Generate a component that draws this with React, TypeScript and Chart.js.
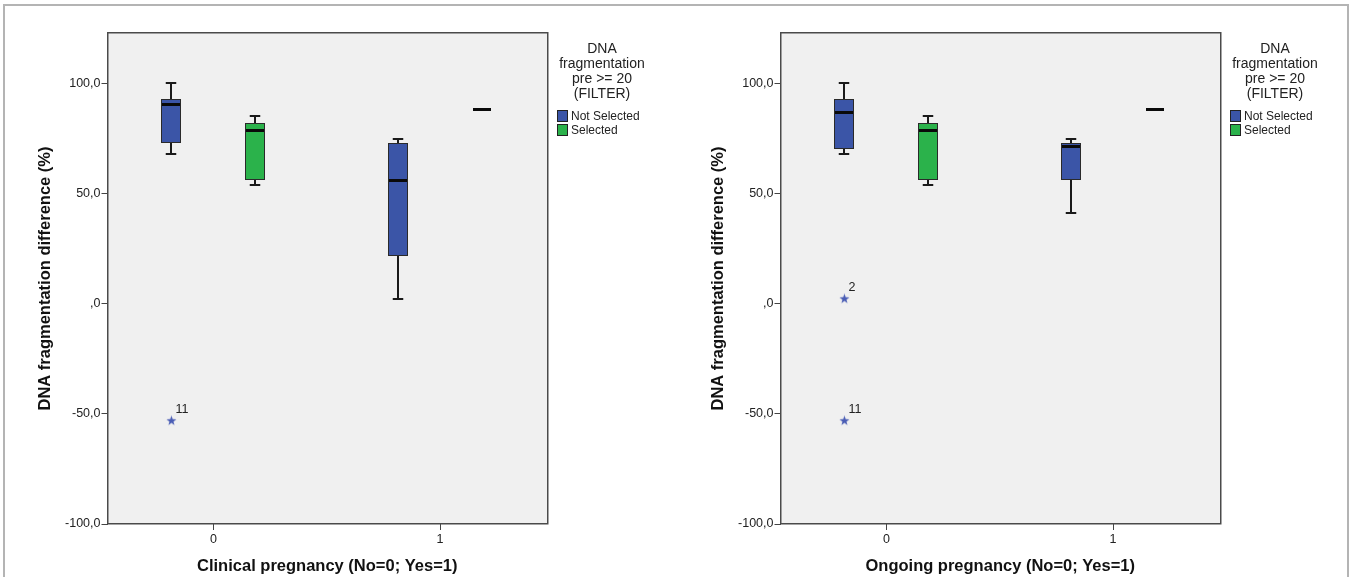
import React, { useEffect, useRef } from 'react';
import { Chart, registerables } from 'chart.js';

Chart.register(...registerables);

const FONT = "'Liberation Sans', Arial, Helvetica, sans-serif";

// ---------- shared data ----------
const categories = [0, 1];
const categoryLabels = ['0', '1'];
const groupNames = ['Not Selected', 'Selected'];
const yTickValues = [-100, -50, 0, 50, 100];
const yTickLabels = ['-100,0', '-50,0', ',0', '50,0', '100,0'];
const legendTitle = ['DNA', 'fragmentation', 'pre >= 20', '(FILTER)'];
const yTitle = 'DNA fragmentation difference (%)';

// ---------- Clinical pregnancy (per category 0, 1) ----------
const clinicalNotSelMin = [67.9, 2.0];
const clinicalNotSelQ1 = [72.7, 21.5];
const clinicalNotSelMedian = [90.3, 56.2];
const clinicalNotSelQ3 = [92.6, 72.7];
const clinicalNotSelMax = [100.0, 74.4];

const clinicalSelMin = [53.6, 88.3];
const clinicalSelQ1 = [55.8, 88.3];
const clinicalSelMedian = [78.8, 88.3];
const clinicalSelQ3 = [81.8, 88.3];
const clinicalSelMax = [85.0, 88.3];

const clinicalOutlierCategory = [0];
const clinicalOutlierGroup = [0];
const clinicalOutlierValue = [-53.2];
const clinicalOutlierLabel = ['11'];

// ---------- Ongoing pregnancy ----------
const ongoingNotSelMin = [67.9, 41.0];
const ongoingNotSelQ1 = [70.0, 56.2];
const ongoingNotSelMedian = [86.7, 71.4];
const ongoingNotSelQ3 = [92.6, 72.9];
const ongoingNotSelMax = [100.0, 74.4];

const ongoingSelMin = [53.8, 88.3];
const ongoingSelQ1 = [55.9, 88.3];
const ongoingSelMedian = [78.9, 88.3];
const ongoingSelQ3 = [81.8, 88.3];
const ongoingSelMax = [85.1, 88.3];

const ongoingOutlierCategory = [0, 0];
const ongoingOutlierGroup = [0, 0];
const ongoingOutlierValue = [2.1, -53.2];
const ongoingOutlierLabel = ['2', '11'];

// ---------- styles / layout ----------
const groupColors = ['#3b55a7', '#2bb24b'];
const groupOffsets = [-0.185, 0.185];
const boxHalfWidth = 0.0463;
const starColor = '#4a5db5';

type GroupStats = { min: number[]; q1: number[]; median: number[]; q3: number[]; max: number[] };

type Spec = {
  xTitle: string;
  groups: GroupStats[];
  outCat: number[];
  outGroup: number[];
  outVal: number[];
  outLabel: string[];
};

const clinicalSpec: Spec = {
  xTitle: 'Clinical pregnancy (No=0; Yes=1)',
  groups: [
    { min: clinicalNotSelMin, q1: clinicalNotSelQ1, median: clinicalNotSelMedian, q3: clinicalNotSelQ3, max: clinicalNotSelMax },
    { min: clinicalSelMin, q1: clinicalSelQ1, median: clinicalSelMedian, q3: clinicalSelQ3, max: clinicalSelMax },
  ],
  outCat: clinicalOutlierCategory,
  outGroup: clinicalOutlierGroup,
  outVal: clinicalOutlierValue,
  outLabel: clinicalOutlierLabel,
};

const ongoingSpec: Spec = {
  xTitle: 'Ongoing pregnancy (No=0; Yes=1)',
  groups: [
    { min: ongoingNotSelMin, q1: ongoingNotSelQ1, median: ongoingNotSelMedian, q3: ongoingNotSelQ3, max: ongoingNotSelMax },
    { min: ongoingSelMin, q1: ongoingSelQ1, median: ongoingSelMedian, q3: ongoingSelQ3, max: ongoingSelMax },
  ],
  outCat: ongoingOutlierCategory,
  outGroup: ongoingOutlierGroup,
  outVal: ongoingOutlierValue,
  outLabel: ongoingOutlierLabel,
};

function makeStar(): HTMLCanvasElement {
  const c = document.createElement('canvas');
  c.width = 11;
  c.height = 11;
  const g = c.getContext('2d')!;
  g.fillStyle = starColor;
  g.beginPath();
  for (let i = 0; i < 10; i++) {
    const r = i % 2 === 0 ? 5.2 : 2.1;
    const a = -Math.PI / 2 + (i * Math.PI) / 5;
    const px = 5.5 + r * Math.cos(a);
    const py = 5.5 + r * Math.sin(a);
    if (i === 0) g.moveTo(px, py);
    else g.lineTo(px, py);
  }
  g.closePath();
  g.fill();
  return c;
}

function makePlugin(spec: Spec) {
  return {
    id: 'spssBoxes',
    beforeDraw(chart: any) {
      const { ctx, chartArea: a } = chart;
      ctx.save();
      ctx.fillStyle = '#f0f0f0';
      ctx.fillRect(a.left, a.top, a.right - a.left, a.bottom - a.top);
      ctx.restore();
    },
    beforeDatasetsDraw(chart: any) {
      const { ctx, scales } = chart;
      const x = scales.x;
      const y = scales.y;
      const hw = x.getPixelForValue(boxHalfWidth) - x.getPixelForValue(0);
      ctx.save();
      spec.groups.forEach((gs, gi) => {
        categories.forEach((cat, ci) => {
          const cx = Math.round(x.getPixelForValue(cat + groupOffsets[gi]));
          const yMin = Math.round(y.getPixelForValue(gs.min[ci]));
          const yQ1 = Math.round(y.getPixelForValue(gs.q1[ci]));
          const yMed = Math.round(y.getPixelForValue(gs.median[ci]));
          const yQ3 = Math.round(y.getPixelForValue(gs.q3[ci]));
          const yMax = Math.round(y.getPixelForValue(gs.max[ci]));
          const left = Math.round(cx - hw);
          const right = Math.round(cx + hw);
          // whiskers
          ctx.strokeStyle = '#1a1a1a';
          ctx.lineWidth = 2;
          if (yMax < yQ3) {
            ctx.beginPath();
            ctx.moveTo(cx, yMax);
            ctx.lineTo(cx, yQ3);
            ctx.moveTo(cx - hw / 2, yMax);
            ctx.lineTo(cx + hw / 2, yMax);
            ctx.stroke();
          }
          if (yMin > yQ1) {
            ctx.beginPath();
            ctx.moveTo(cx, yQ1);
            ctx.lineTo(cx, yMin);
            ctx.moveTo(cx - hw / 2, yMin);
            ctx.lineTo(cx + hw / 2, yMin);
            ctx.stroke();
          }
          // box
          if (yQ1 > yQ3) {
            ctx.fillStyle = groupColors[gi];
            ctx.fillRect(left, yQ3, right - left, yQ1 - yQ3);
            ctx.strokeStyle = '#2a2a2a';
            ctx.lineWidth = 1;
            ctx.strokeRect(left + 0.5, yQ3 + 0.5, right - left - 1, yQ1 - yQ3 - 1);
          }
          // median
          ctx.strokeStyle = '#0a0a0a';
          ctx.lineWidth = 3;
          ctx.beginPath();
          ctx.moveTo(left + 1, yMed + 0.5);
          ctx.lineTo(right - 1, yMed + 0.5);
          ctx.stroke();
        });
      });
      ctx.restore();
    },
    afterDatasetsDraw(chart: any) {
      const { ctx, chartArea: a, scales } = chart;
      const x = scales.x;
      const y = scales.y;
      ctx.save();
      // outlier labels
      ctx.fillStyle = '#222';
      ctx.font = `12.5px ${FONT}`;
      ctx.textAlign = 'left';
      ctx.textBaseline = 'middle';
      spec.outVal.forEach((v, i) => {
        const px = x.getPixelForValue(categories[spec.outCat[i]] + groupOffsets[spec.outGroup[i]]);
        const py = y.getPixelForValue(v);
        ctx.fillText(spec.outLabel[i], px + 4, py - 11);
      });
      // plot frame
      ctx.strokeStyle = '#4a4a4a';
      ctx.lineWidth = 1.5;
      ctx.strokeRect(Math.round(a.left) - 0.25, Math.round(a.top) - 0.25, Math.round(a.right - a.left), Math.round(a.bottom - a.top));
      ctx.restore();
    },
    afterDraw(chart: any) {
      const { ctx, chartArea: a } = chart;
      ctx.save();
      const cx = a.right + 55;
      ctx.fillStyle = '#222';
      ctx.textAlign = 'center';
      ctx.textBaseline = 'middle';
      ctx.font = `14px ${FONT}`;
      legendTitle.forEach((t, i) => ctx.fillText(t, cx, 49.5 + i * 14.8));
      ctx.font = `12px ${FONT}`;
      ctx.textAlign = 'left';
      groupNames.forEach((n, i) => {
        const yc = 116 + i * 14;
        ctx.fillStyle = groupColors[i];
        ctx.fillRect(a.right + 10, yc - 6, 11, 12);
        ctx.strokeStyle = '#222';
        ctx.lineWidth = 1;
        ctx.strokeRect(a.right + 10.5, yc - 5.5, 10, 11);
        ctx.fillStyle = '#222';
        ctx.fillText(n, a.right + 24, yc + 0.5);
      });
      ctx.restore();
    },
  };
}

function BoxChart({ spec, left }: { spec: Spec; left: number }) {
  const ref = useRef<HTMLCanvasElement>(null);
  useEffect(() => {
    if (!ref.current) return;
    const star = makeStar();
    const chart = new Chart(ref.current, {
      type: 'scatter',
      data: {
        datasets: [
          {
            label: 'outliers',
            data: spec.outVal.map((v, i) => ({
              x: categories[spec.outCat[i]] + groupOffsets[spec.outGroup[i]],
              y: v,
            })),
            pointStyle: star as any,
            pointRadius: 5,
          },
        ],
      },
      options: {
        animation: false,
        responsive: false,
        maintainAspectRatio: false,
        devicePixelRatio: 1,
        layout: { padding: { top: 33, right: 126, bottom: 0, left: 0 } },
        plugins: { legend: { display: false }, tooltip: { enabled: false } },
        scales: {
          x: {
            type: 'linear',
            min: -0.467,
            max: 1.472,
            afterBuildTicks: (s: any) => {
              s.ticks = categories.map((v) => ({ value: v }));
            },
            afterFit: (s: any) => {
              s.height = 53;
            },
            ticks: {
              callback: (v: any) => {
                const i = categories.indexOf(Number(v));
                return i >= 0 ? categoryLabels[i] : '';
              },
              font: { size: 12.5, family: FONT },
              color: '#222',
              padding: 2,
              maxRotation: 0,
              autoSkip: false,
            },
            grid: { display: true, drawOnChartArea: false, tickLength: 6, color: '#444', lineWidth: 1 },
            border: { display: false },
            title: {
              display: true,
              text: spec.xTitle,
              font: { size: 16.5, weight: 'bold', family: FONT },
              color: '#111',
              padding: { top: 0, bottom: 1 },
            },
          },
          y: {
            type: 'linear',
            min: -100,
            max: 122.7,
            afterBuildTicks: (s: any) => {
              s.ticks = yTickValues.map((v) => ({ value: v }));
            },
            afterFit: (s: any) => {
              s.width = 107.5;
            },
            ticks: {
              callback: (v: any) => {
                const i = yTickValues.indexOf(Number(v));
                return i >= 0 ? yTickLabels[i] : '';
              },
              font: { size: 12.5, family: FONT },
              color: '#222',
              padding: 1,
            },
            grid: { display: true, drawOnChartArea: false, tickLength: 6, color: '#444', lineWidth: 1 },
            border: { display: false },
            title: {
              display: true,
              text: yTitle,
              font: { size: 16.5, weight: 'bold', family: FONT },
              color: '#111',
              padding: { top: 36, bottom: 0 },
            },
          },
        },
      } as any,
      plugins: [makePlugin(spec)],
    });
    return () => chart.destroy();
  }, [spec]);
  return (
    <canvas
      ref={ref}
      width={673}
      height={577}
      style={{ position: 'absolute', left, top: 0, width: 673, height: 577 }}
    />
  );
}

export default function App() {
  return (
    <div
      style={{
        position: 'absolute',
        left: 0,
        top: 0,
        width: 1352,
        height: 577,
        overflow: 'hidden',
        background: '#ffffff',
      }}
    >
      <div
        style={{
          position: 'absolute',
          left: 3,
          top: 4,
          width: 1342,
          height: 640,
          border: '2px solid #b4b4b4',
          boxSizing: 'content-box',
        }}
      />
      <BoxChart spec={clinicalSpec} left={0} />
      <BoxChart spec={ongoingSpec} left={673} />
    </div>
  );
}
